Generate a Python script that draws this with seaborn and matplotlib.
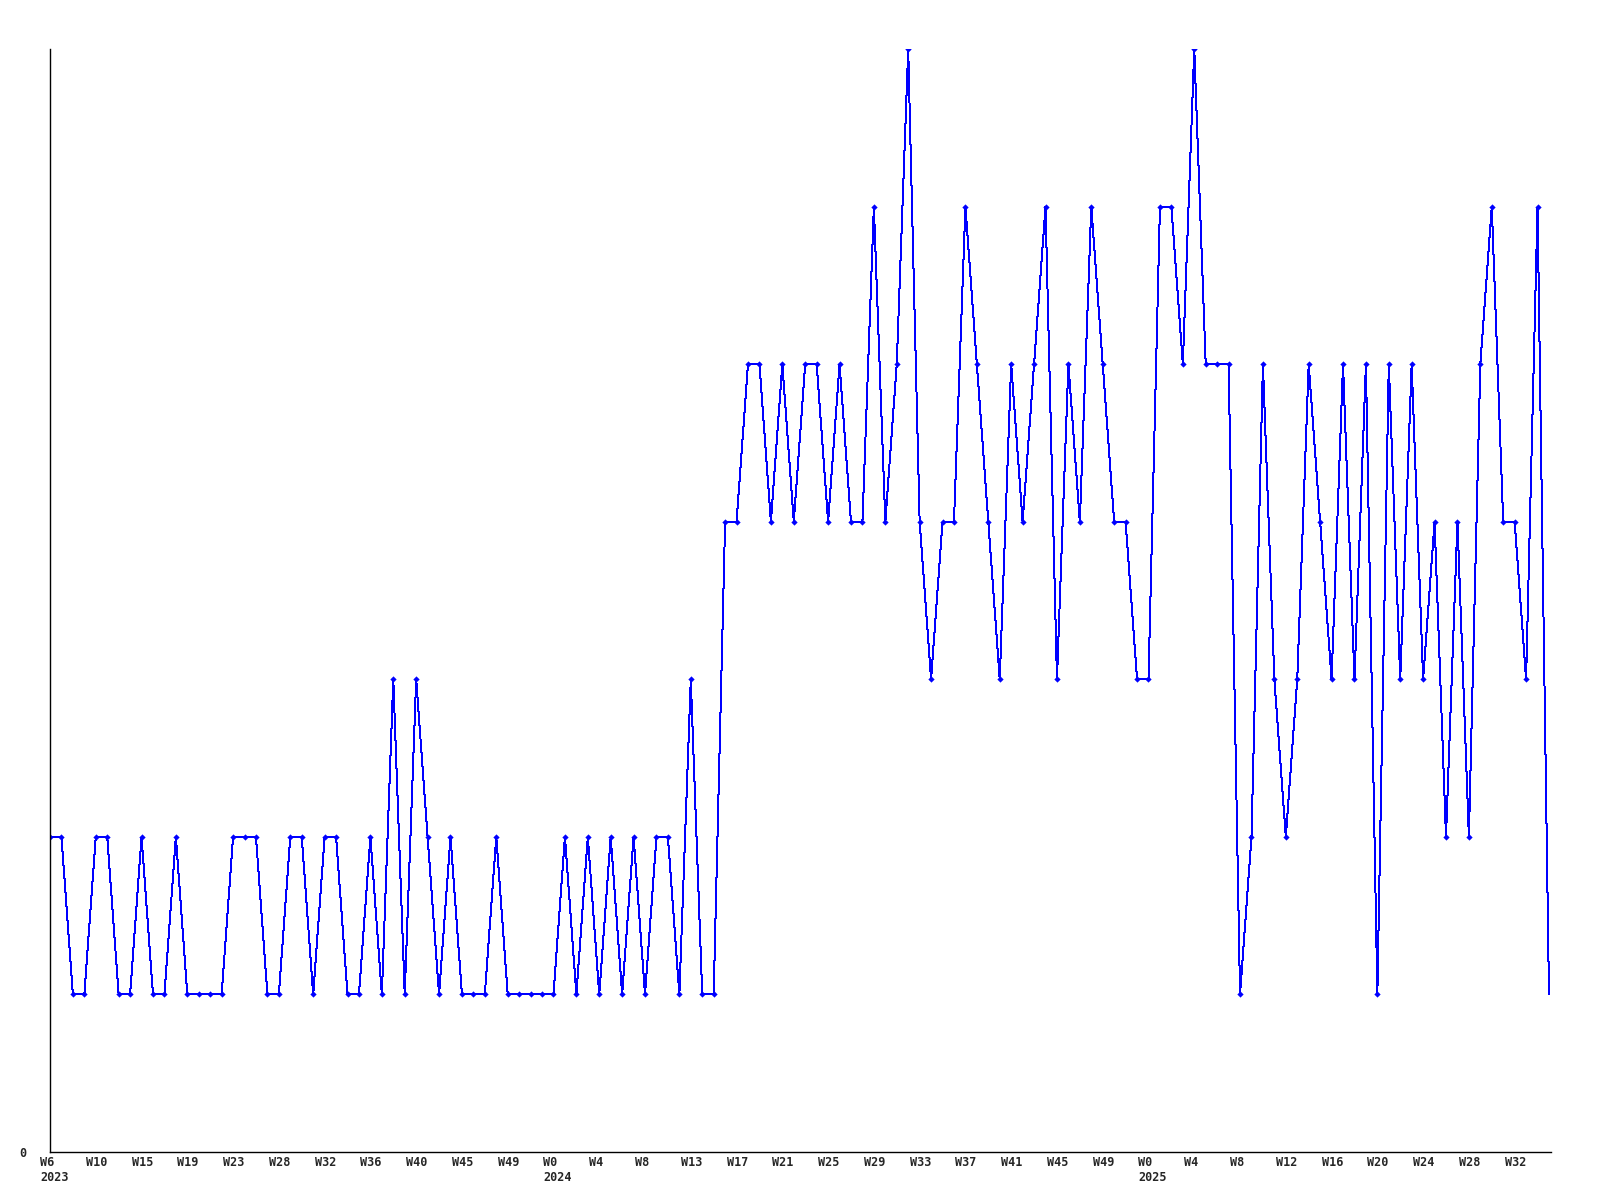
import seaborn as sns
import pandas as pd
import matplotlib.pyplot as plt
from matplotlib.transforms import ScaledTranslation

# weekly counts
counts = [2, 2, 1, 1, 2, 2, 1, 1, 2, 1, 1, 2, 1, 1, 1, 1, 2, 2, 2, 1,
          1, 2, 2, 1, 2, 2, 1, 1, 2, 1, 3, 1, 3, 2, 1, 2, 1, 1, 1, 2,
          1, 1, 1, 1, 1, 2, 1, 2, 1, 2, 1, 2, 1, 2, 2, 1, 3, 1, 1,
          4, 4, 5, 5, 4, 5, 4, 5, 5, 4, 5, 4, 4, 6, 4, 5, 7, 4, 3, 4,
          4, 6, 5, 4, 3, 5, 4, 5, 6, 3, 5, 4, 6, 5, 4, 4, 3, 3, 6, 6,
          5, 7, 5, 5, 5, 1, 2, 5, 3, 2, 3, 5, 4, 3, 5, 3, 5, 1, 5, 3,
          5, 3, 4, 2, 4, 2, 5, 6, 4, 4, 3, 6, 1]

week_labels = ["W6", "W10", "W15", "W19", "W23", "W28", "W32", "W36", "W40", "W45", "W49",
               "W0", "W4", "W8", "W13", "W17", "W21", "W25", "W29", "W33", "W37", "W41", "W45", "W49",
               "W0", "W4", "W8", "W12", "W16", "W20", "W24", "W28", "W32"]
year_labels = {0: "2023", 11: "2024", 24: "2025"}

df = pd.DataFrame({"week": range(len(counts)), "count": counts})

sns.set_style("white")
plt.rcParams['font.family'] = ['DejaVu Sans Mono', 'DejaVu Sans']

fig = plt.figure(figsize=(16, 12), dpi=100)
ax = fig.add_axes([50 / 1600, 48 / 1200, 1500.7 / 1600, 1103 / 1200])

sns.lineplot(data=df, x="week", y="count", ax=ax, color="#0000ff", linewidth=0.72,
             marker="D", markersize=3.2, markeredgewidth=0,
             markevery=list(range(len(counts) - 1)), antialiased=False)

ax.set_xlim(0, 131.15)
ax.set_ylim(0, 7)

# week labels every 4th point, left aligned a little left of the point
ax.set_xticks([])
trans = ax.get_xaxis_transform() + ScaledTranslation(-10 / 100, -4 / 100, fig.dpi_scale_trans)
for i, w in enumerate(week_labels):
    txt = w + "\n" + year_labels[i] if i in year_labels else w
    ax.text(i * 4, 0, txt, transform=trans, fontsize=8.5, fontweight="bold",
            ha="left", va="top", linespacing=1.2, clip_on=False)

ax.set_yticks([0])
ax.set_yticklabels(["0"], fontsize=8.5, fontweight="bold")
ax.tick_params(axis="y", length=0, pad=17)

for side in ["top", "right"]:
    ax.spines[side].set_visible(False)
for side in ["left", "bottom"]:
    ax.spines[side].set_color("black")
    ax.spines[side].set_linewidth(1)

ax.set_xlabel("")
ax.set_ylabel("")

fig.savefig("out.png", dpi=100)
